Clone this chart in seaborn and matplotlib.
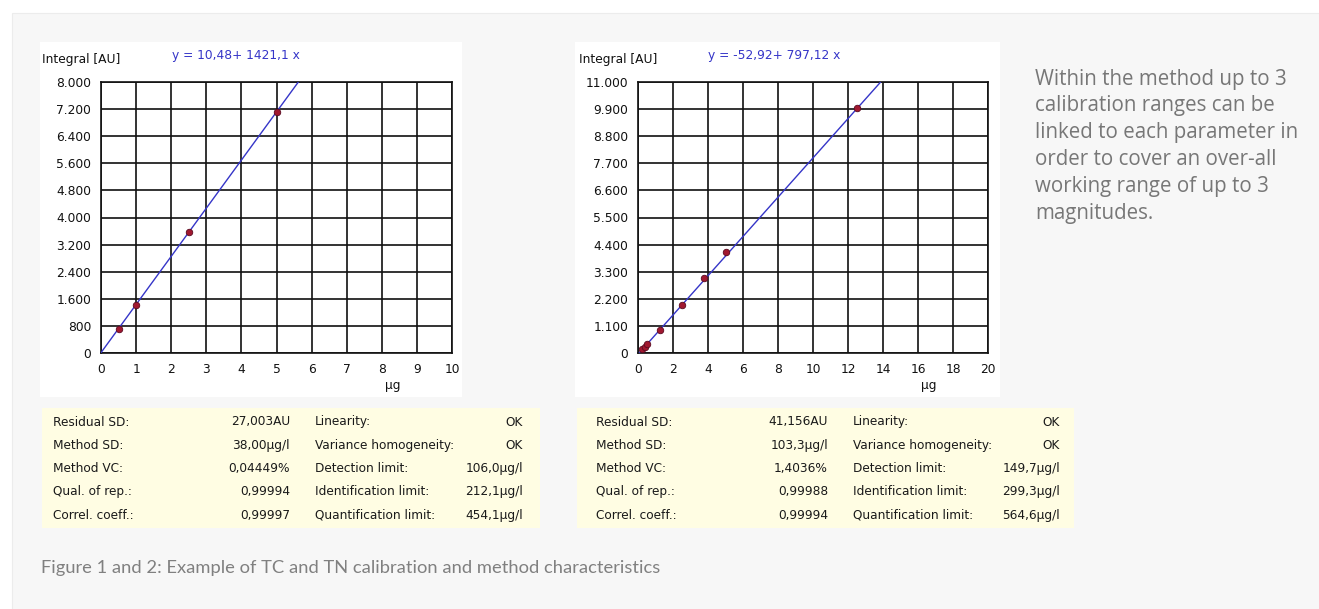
import matplotlib
matplotlib.use("Agg")
import matplotlib.pyplot as plt
import matplotlib.patches as mpatches
from matplotlib.ticker import FuncFormatter, MultipleLocator
import seaborn as sns
import pandas as pd
import numpy as np

# --- data ---
tc_x = [0.5, 1.0, 2.5, 5.0]
tc_y = [720, 1430, 3560, 7120]
tc_intercept, tc_slope = 10.48, 1421.1
tc_equation = "y = 10,48+ 1421,1 x"

tn_x = [0.25, 0.375, 0.5, 1.25, 2.5, 3.75, 5.0, 12.5]
tn_y = [150, 260, 370, 940, 1960, 3030, 4080, 9930]
tn_intercept, tn_slope = -52.92, 797.12
tn_equation = "y = -52,92+ 797,12 x"

stat_labels_left = ["Residual SD:", "Method SD:", "Method VC:", "Qual. of rep.:", "Correl. coeff.:"]
stat_labels_right = ["Linearity:", "Variance homogeneity:", "Detection limit:",
                     "Identification limit:", "Quantification limit:"]
tc_values_left = ["27,003AU", "38,00µg/l", "0,04449%", "0,99994", "0,99997"]
tc_values_right = ["OK", "OK", "106,0µg/l", "212,1µg/l", "454,1µg/l"]
tn_values_left = ["41,156AU", "103,3µg/l", "1,4036%", "0,99988", "0,99994"]
tn_values_right = ["OK", "OK", "149,7µg/l", "299,3µg/l", "564,6µg/l"]

side_text = ["Within the method up to 3", "calibration ranges can be",
             "linked to each parameter in", "order to cover an over-all",
             "working range of up to 3", "magnitudes."]
caption = "Figure 1 and 2: Example of TC and TN calibration and method characteristics"

W, H = 1319, 609
sns.set_style("white")
plt.rcParams["font.family"] = ["DejaVu Sans"]

fig = plt.figure(figsize=(W / 100, H / 100), dpi=100)
fig.patch.set_facecolor("white")


def fx(x):
    return x / W


def fy(y):
    return 1 - y / H


def rect(x0, y0, x1, y1, color, ec="none"):
    fig.patches.append(mpatches.Rectangle((fx(x0), fy(y1)), fx(x1 - x0), (y1 - y0) / H,
                                          transform=fig.transFigure, facecolor=color,
                                          edgecolor=ec, lw=0.8, zorder=-5))


# page background
rect(12, 13, W + 5, H + 5, "#f7f7f7", ec="#ececec")
# white chart panels
rect(40, 42, 462, 397, "white")
rect(575, 42, 1000, 397, "white")
# yellow tables
rect(42, 408, 540, 528, "#fffde3")
rect(577, 408, 1074, 528, "#fffde3")

thousands = FuncFormatter(lambda v, p: f"{v:,.0f}".replace(",", "."))
FS = 8.8


def calib_plot(px0, px1, xs, ys, a, b, xmax, xstep, ymax, ystep, eq, eq_x, label_x):
    ax = fig.add_axes([fx(px0), fy(353), fx(px1 - px0), (353 - 82) / H])
    ax.set_facecolor("white")
    xl = np.linspace(max(0, -a / b), (ymax - a) / b, 50)
    line = pd.DataFrame({"x": xl, "y": a + b * xl})
    sns.lineplot(data=line, x="x", y="y", ax=ax, color="#3535c8", lw=1.0, zorder=3)
    pts = pd.DataFrame({"x": xs, "y": ys})
    sns.scatterplot(data=pts, x="x", y="y", ax=ax, color="#a01830", edgecolor="#5a0a20",
                    s=22, linewidth=0.6, zorder=4)
    ax.set_xlim(0, xmax)
    ax.set_ylim(0, ymax)
    ax.xaxis.set_major_locator(MultipleLocator(xstep))
    ax.yaxis.set_major_locator(MultipleLocator(ystep))
    ax.yaxis.set_major_formatter(thousands)
    ax.grid(True, color="#111111", lw=1.2)
    ax.set_axisbelow(True)
    for s in ax.spines.values():
        s.set_color("#111111")
        s.set_linewidth(1.2)
    ax.tick_params(length=0, labelsize=FS, colors="#111111", pad=7)
    ax.set_xlabel("")
    ax.set_ylabel("")
    fig.text(fx(label_x), fy(60), "Integral [AU]", fontsize=FS, color="#111111",
             va="center", ha="left")
    fig.text(fx(eq_x), fy(56), eq, fontsize=FS, color="#3535c8", va="center", ha="left")
    fig.text(fx(px0 + (px1 - px0) * 0.83), fy(385), "µg", fontsize=FS, color="#111111",
             va="center", ha="center")
    return ax


calib_plot(101, 452, tc_x, tc_y, tc_intercept, tc_slope, 10, 1, 8000, 800,
           tc_equation, 172, 42)
calib_plot(638, 988, tn_x, tn_y, tn_intercept, tn_slope, 20, 2, 11000, 1100,
           tn_equation, 708, 579)


def stats_table(x_lab1, x_val1, x_lab2, x_val2, vals_left, vals_right):
    for i in range(len(stat_labels_left)):
        y = fy(422 + i * 23.3)
        kw = dict(fontsize=8.7, color="#1a1a1a", va="center")
        fig.text(fx(x_lab1), y, stat_labels_left[i], ha="left", **kw)
        fig.text(fx(x_val1), y, vals_left[i], ha="right", **kw)
        fig.text(fx(x_lab2), y, stat_labels_right[i], ha="left", **kw)
        fig.text(fx(x_val2), y, vals_right[i], ha="right", **kw)


stats_table(53, 290, 315, 523, tc_values_left, tc_values_right)
stats_table(596, 828, 853, 1060, tn_values_left, tn_values_right)

for i, line in enumerate(side_text):
    fig.text(fx(1035), fy(79 + i * 26.8), line, fontsize=14.8, color="#777777",
             family="Open Sans", va="center", ha="left")

fig.text(fx(41), fy(568), caption, fontsize=13.2, color="#808080", family="Lato",
         va="center", ha="left")

fig.savefig("out.png", dpi=100, facecolor="white")
